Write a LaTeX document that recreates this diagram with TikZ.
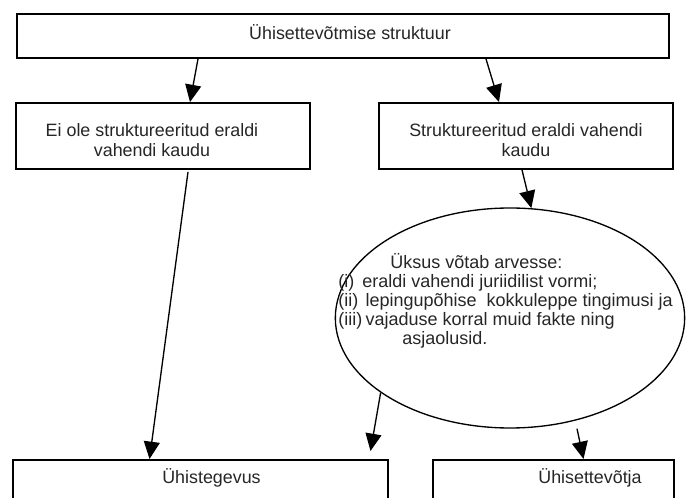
\documentclass[tikz,border=0pt]{standalone}
\usepackage{fontspec}
\setmainfont{Liberation Sans}
\usetikzlibrary{positioning,calc,shapes.geometric,arrows.meta}
\tikzset{
  box/.style={rectangle, draw=black, line width=1.4pt, inner sep=0pt},
  ell/.style={ellipse, draw=black, line width=1pt, inner sep=0pt, minimum width=262pt, minimum height=165pt},
  txt/.style={text=black!85, font=\fontsize{13.4}{15}\selectfont, align=center, inner sep=0pt},
  lst/.style={text=black!85, font=\fontsize{13.5}{14.2}\selectfont, align=left, inner sep=0pt},
  arr/.style={-{Triangle[length=13pt,width=12pt]}, line width=1pt}
}
\begin{document}
\begin{tikzpicture}[x=0.75pt,y=-0.75pt]
	\clip (0,0) rectangle (686,498);
	\node[box, minimum width=489pt, minimum height=33pt] (top) at (343,36) {};
	\node[box, minimum width=220.5pt, minimum height=49.5pt] (nosep) at (163,136) {};
	\node[box, minimum width=220.5pt, minimum height=49.5pt] (sep) at (526,136) {};
	\node[ell] (assess) at (510,318) {};
	\node[box, minimum width=281pt, minimum height=60pt, anchor=north] (joint) at (200.5,459) {};
	\node[box, minimum width=181pt, minimum height=60pt, anchor=north] (venture) at (553.5,459) {};
	%
	\node[txt] (toptxt) at ($(top)+(7,-4)$) {Ühisettevõtmise struktuur};
	\node[txt] (noseptxt) at ($(nosep)+(-11,4)$) {Ei ole struktureeritud eraldi\\vahendi kaudu};
	\node[txt] (septxt) at ($(sep)+(0,4)$) {Struktureeritud eraldi vahendi\\kaudu};
	\node[lst, anchor=north west] (assesstxt) at (338,253) {%
		\hspace*{39pt}Üksus võtab arvesse:\\
		\makebox[18pt][l]{(i)}eraldi vahendi juriidilist vormi;\\
		\makebox[20.5pt][l]{(ii)}lepingupõhise\ \ kokkuleppe tingimusi ja\\
		\makebox[20.5pt][l]{(iii)}vajaduse korral muid fakte ning\\
		\hspace*{48pt}asjaolusid.};
	\node[txt] (jointtxt) at ($(joint.north)+(11,19)$) {Ühistegevus};
	\node[txt] (venturetxt) at ($(venture.north)+(36.5,19)$) {Ühisettevõtja};
	%
	\coordinate (gap) at ($(joint.north)+(170,-8)$);
	\draw[arr] ($(top.south)+(-145,0)$) -- ($(nosep.north)+(27,0)$);
	\draw[arr] ($(top.south)+(143,0)$) -- ($(sep.north)+(-27,0)$);
	\draw[arr] ($(sep.south)+(-4,0)$) -- (assess.79);
	\draw[arr] ($(nosep.south)+(25,2)$) -- ($(joint.north)+(-51,0)$);
	\draw[arr] (assess.210) -- (gap);
	\draw[arr] ($(assess.south)+(67,0)$) -- ($(venture.north)+(30,0)$);
\end{tikzpicture}
\end{document}
